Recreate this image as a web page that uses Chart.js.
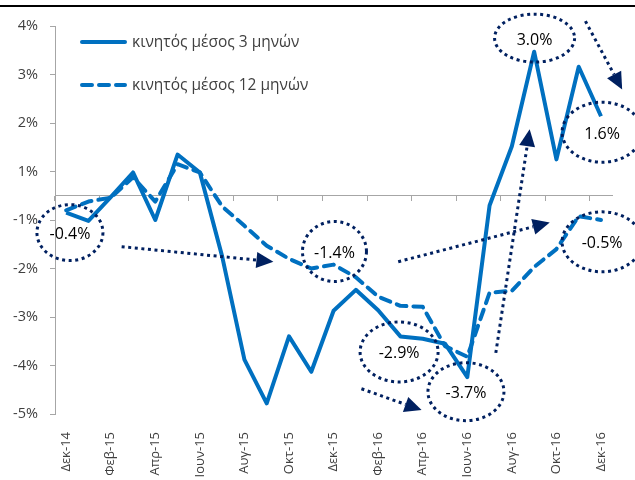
<!DOCTYPE html>
<html>
<head>
<meta charset="utf-8">
<script src="https://cdn.jsdelivr.net/npm/chart.js@4"></script>
<style>
  body { margin: 0; overflow: hidden; background: #fff; }
  #wrap { position: relative; width: 635px; height: 480px; overflow: hidden; }
  #rule { position: absolute; left: 0; top: 5px; width: 635px; height: 2px; background: #000; }
  canvas { position: absolute; left: 0; top: 0; }
</style>
</head>
<body>
<div id="wrap">
  <div id="rule"></div>
  <canvas id="chart" width="635" height="500"></canvas>
</div>
<script>
// months Dec-14 .. Dec-16
const months = ['Δεκ-14', 'Ιαν-15', 'Φεβ-15', 'Μαρ-15', 'Απρ-15', 'Μαϊ-15', 'Ιουν-15', 'Ιουλ-15', 'Αυγ-15', 'Σεπ-15', 'Οκτ-15', 'Νοε-15',
    'Δεκ-15', 'Ιαν-16', 'Φεβ-16', 'Μαρ-16', 'Απρ-16', 'Μαϊ-16', 'Ιουν-16', 'Ιουλ-16', 'Αυγ-16', 'Σεπ-16', 'Οκτ-16', 'Νοε-16', 'Δεκ-16'];

const avg3m = [-0.35, -0.52, -0.03, 0.48, -0.5, 0.85, 0.48, -1.25, -3.38, -4.28, -2.9, -3.63,
    -2.37, -1.94, -2.36, -2.9, -2.95, -3.05, -3.74, -0.2, 1.02, 2.97, 0.75, 2.66, 1.64];
const avg12m = [-0.3, -0.12, -0.04, 0.38, -0.12, 0.65, 0.48, -0.22, -0.62, -1.03, -1.3, -1.5,
    -1.42, -1.68, -2.08, -2.27, -2.29, -3.1, -3.32, -2.0, -1.96, -1.47, -1.1, -0.42, -0.5];

const seriesNames = ['κινητός μέσος 3 μηνών', 'κινητός μέσος 12 μηνών'];

// y ticks sit on half steps, printed rounded like the original
const yTicks = [-4.5, -3.5, -2.5, -1.5, -0.5, 0.5, 1.5, 2.5, 3.5];
const yTickLabels = ['-5%', '-4%', '-3%', '-2%', '-1%', '1%', '2%', '3%', '4%'];

// callouts: text + ellipse centre in (month index, value)
const calloutText = ['-0.4%', '-1.4%', '-2.9%', '-3.7%', '-0.5%', '3.0%', '1.6%'];
const calloutAt = [[0.17, -0.76], [12.04, -1.15], [14.94, -3.22], [17.94, -4.04], [24.05, -0.95], [21.02, 3.25], [24.05, 1.31]];
// arrows: from [index, value] to [index, value]
const arrows = [
    [[2.49, -1.05], [9.3, -1.36]],
    [[14.9, -1.36], [21.7, -0.55]],
    [[13.25, -3.98], [15.95, -4.42]],
    [[19.28, -3.24], [20.8, 1.37]],
    [[23.3, 3.6], [24.95, 2.19]],
];

const blue = '#0070c0';
const navy = '#002060';
const axisGrey = '#a6a6a6';
const font = '"Open Sans", "DejaVu Sans", sans-serif';

const ellipseSize = [[33, 28], [32, 30], [39, 30], [38, 29], [40, 30], [40, 24], [40, 30]];

function dotted(ctx) {
    ctx.strokeStyle = navy;
    ctx.lineWidth = 3;
    ctx.setLineDash([3, 3.6]);
    ctx.lineCap = 'butt';
}

const callouts = {
    id: 'callouts',
    afterDatasetsDraw(chart) {
        const ctx = chart.ctx;
        const x = chart.scales.x, y = chart.scales.y;
        ctx.save();
        calloutAt.forEach((p, i) => {
            const cx = x.getPixelForValue(p[0]), cy = y.getPixelForValue(p[1]);
            dotted(ctx);
            ctx.beginPath();
            ctx.ellipse(cx, cy, ellipseSize[i][0], ellipseSize[i][1], 0, 0, Math.PI * 2);
            ctx.stroke();
            ctx.setLineDash([]);
            ctx.fillStyle = '#000';
            ctx.font = '16px ' + font;
            ctx.textAlign = 'center';
            ctx.textBaseline = 'middle';
            ctx.fillText(calloutText[i], cx, cy + 2);
        });
        arrows.forEach(a => {
            const x0 = x.getPixelForValue(a[0][0]), y0 = y.getPixelForValue(a[0][1]);
            const x1 = x.getPixelForValue(a[1][0]), y1 = y.getPixelForValue(a[1][1]);
            const ang = Math.atan2(y1 - y0, x1 - x0);
            const head = 17, half = 8;
            const bx = x1 - Math.cos(ang) * head, by = y1 - Math.sin(ang) * head;
            dotted(ctx);
            ctx.beginPath();
            ctx.moveTo(x0, y0);
            ctx.lineTo(bx, by);
            ctx.stroke();
            ctx.setLineDash([]);
            ctx.fillStyle = navy;
            ctx.beginPath();
            ctx.moveTo(x1, y1);
            ctx.lineTo(bx + Math.sin(ang) * half, by - Math.cos(ang) * half);
            ctx.lineTo(bx - Math.sin(ang) * half, by + Math.cos(ang) * half);
            ctx.closePath();
            ctx.fill();
        });
        ctx.restore();
    }
};

// legend sits inside the plot, top left
const insideLegend = {
    id: 'insideLegend',
    afterDraw(chart) {
        const ctx = chart.ctx;
        const area = chart.chartArea;
        ctx.save();
        chart.data.datasets.forEach((ds, i) => {
            const ly = area.top + 16 + i * 43;
            const lx = area.left + 25;
            ctx.strokeStyle = ds.borderColor;
            ctx.lineWidth = ds.borderWidth;
            ctx.lineCap = 'round';
            ctx.setLineDash(ds.borderDash || []);
            ctx.beginPath();
            ctx.moveTo(lx + 2, ly);
            ctx.lineTo(lx + 45, ly);
            ctx.stroke();
            ctx.setLineDash([]);
            ctx.fillStyle = '#404040';
            ctx.font = '15.5px ' + font;
            ctx.textAlign = 'left';
            ctx.textBaseline = 'middle';
            ctx.fillText(ds.label, lx + 52, ly + 1);
        });
        ctx.restore();
    }
};

new Chart(document.getElementById('chart'), {
    type: 'line',
    data: {
        labels: months,
        datasets: [
            {
                label: seriesNames[0],
                data: avg3m,
                borderColor: blue,
                borderWidth: 4,
                borderJoinStyle: 'round',
                pointRadius: 0,
                tension: 0,
                order: 1
            },
            {
                label: seriesNames[1],
                data: avg12m,
                borderColor: blue,
                borderWidth: 4,
                borderDash: [10, 7],
                borderCapStyle: 'round',
                borderJoinStyle: 'round',
                pointRadius: 0,
                tension: 0,
                order: 0
            }
        ]
    },
    options: {
        responsive: false,
        animation: false,
        layout: { padding: { top: 26, right: 20, left: 0, bottom: 0 } },
        plugins: { legend: { display: false }, tooltip: { enabled: false } },
        scales: {
            x: {
                type: 'category',
                position: { y: 0 },
                offset: true,
                grid: {
                    offset: true,
                    drawOnChartArea: false,
                    tickLength: 5,
                    color: c => (c.index % 2 === 0 ? axisGrey : 'rgba(0,0,0,0)')
                },
                border: { color: axisGrey, width: 1 },
                ticks: { display: false }
            },
            x2: {
                type: 'category',
                position: 'bottom',
                offset: true,
                grid: { display: false, drawTicks: false },
                border: { display: false },
                afterFit: s => { s.height = 86; },
                ticks: {
                    autoSkip: false,
                    minRotation: 90,
                    maxRotation: 90,
                    padding: 18,
                    color: '#404040',
                    font: { family: font, size: 13 },
                    callback: (v, i) => (i % 2 === 0 ? months[i] : '')
                }
            },
            y: {
                min: -4.5,
                max: 3.5,
                afterFit: s => { s.width = 55; },
                afterBuildTicks: s => { s.ticks = yTicks.map(v => ({ value: v })); },
                grid: { drawOnChartArea: false, tickLength: 5, color: axisGrey },
                border: { color: axisGrey, width: 1 },
                ticks: {
                    padding: 12,
                    color: '#404040',
                    font: { family: font, size: 14.5 },
                    callback: (v, i) => yTickLabels[i]
                }
            }
        }
    },
    plugins: [callouts, insideLegend]
});
</script>
</body>
</html>
